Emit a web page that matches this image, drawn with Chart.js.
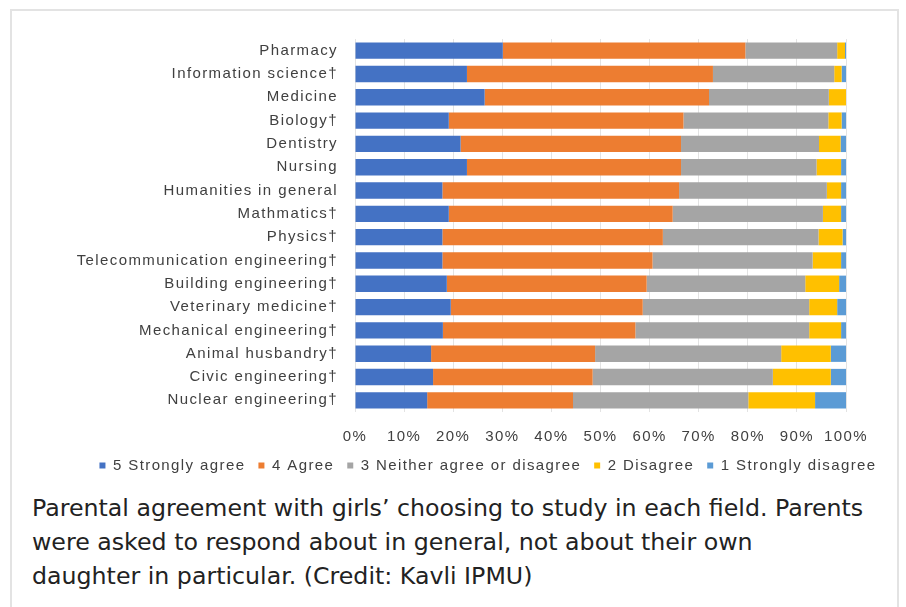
<!DOCTYPE html>
<html>
<head>
<meta charset="utf-8">
<script src="https://cdn.jsdelivr.net/npm/chart.js@4.4.1/dist/chart.umd.min.js"></script>
<style>
  html, body { margin: 0; padding: 0; background: #fff; }
  #frame {
    position: absolute; left: 10px; top: 9px; width: 889px; height: 620px;
    border: 2px solid #e3e3e3; box-sizing: border-box;
  }
  #chartBox { position: absolute; left: 0; top: 0; width: 906px; height: 490px; }
  #caption {
    position: absolute; left: 32px; top: 491px;
    font-family: "DejaVu Sans", sans-serif; font-size: 23.7px; line-height: 34px;
    color: #222; white-space: nowrap;
  }
</style>
</head>
<body>
<div id="frame"></div>
<div id="chartBox"><canvas id="myChart"></canvas></div>
<div id="caption">Parental agreement with girls’ choosing to study in each field. Parents<br>were asked to respond about in general, not about their own<br>daughter in particular. (Credit: Kavli IPMU)</div>
<script>
const fields = [
  "Pharmacy", "Information science†", "Medicine", "Biology†", "Dentistry", "Nursing",
  "Humanities in general", "Mathmatics†", "Physics†", "Telecommunication engineering†",
  "Building engineering†", "Veterinary medicine†", "Mechanical engineering†",
  "Animal husbandry†", "Civic engineering†", "Nuclear engineering†"
];
const stronglyAgree = [30.1, 22.8, 26.4, 19.1, 21.5, 22.8, 17.8, 19.1, 17.8, 17.8, 18.7, 19.5, 17.9, 15.5, 15.9, 14.7];
const agree = [49.4, 50.1, 45.7, 47.8, 44.9, 43.6, 48.2, 45.6, 44.9, 42.8, 40.7, 39.1, 39.2, 33.4, 32.5, 29.7];
const neither = [18.7, 24.7, 24.4, 29.5, 28.1, 27.6, 30.1, 30.6, 31.7, 32.6, 32.3, 33.9, 35.4, 37.9, 36.7, 35.7];
const disagree = [1.6, 1.5, 3.5, 2.7, 4.4, 5.0, 2.9, 3.7, 4.9, 5.8, 6.9, 5.7, 6.5, 10.1, 11.8, 13.6];
const stronglyDisagree = [0.2, 0.9, 0, 0.9, 1.1, 1.0, 1.0, 1.0, 0.7, 1.0, 1.4, 1.8, 1.0, 3.1, 3.1, 6.3];
const tickLabels = ["0%", "10%", "20%", "30%", "40%", "50%", "60%", "70%", "80%", "90%", "100%"];

const seriesNames = ["5 Strongly agree", "4 Agree", "3 Neither agree or disagree", "2 Disagree", "1 Strongly disagree"];
const seriesData = [stronglyAgree, agree, neither, disagree, stronglyDisagree];
const seriesColors = ["#4472C4", "#ED7D31", "#A5A5A5", "#FFC000", "#5B9BD5"];

const ctx = document.getElementById("myChart").getContext("2d");
const fontFamily = "'Liberation Sans', Arial, sans-serif";

// the source picture has widely spaced letters, canvas letterSpacing gets close
const spacing = {
  id: "spacing",
  beforeUpdate(chart) { chart.ctx.letterSpacing = "1.4px"; },
  beforeDraw(chart) { chart.ctx.letterSpacing = "1.4px"; }
};

let chart = new Chart(ctx, {
  type: "bar",
  data: {
    labels: fields,
    datasets: seriesNames.map((name, i) => ({
      label: name,
      data: seriesData[i],
      backgroundColor: seriesColors[i],
      borderWidth: 0,
      barPercentage: 1,
      categoryPercentage: 0.7
    }))
  },
  plugins: [spacing],
  options: {
    indexAxis: "y",
    responsive: true,
    maintainAspectRatio: false,
    animation: false,
    layout: { padding: { top: 39, right: 0, left: 70, bottom: 7 } },
    scales: {
      x: {
        stacked: true,
        min: 0,
        max: 100,
        border: { display: false },
        grid: { color: "#e3e3e3", lineWidth: 1, drawTicks: false },
        ticks: {
          stepSize: 10,
          padding: 16,
          maxRotation: 0,
          minRotation: 0,
          autoSkip: false,
          color: "#404040",
          font: { family: fontFamily, size: 15 },
          callback: (v, i) => tickLabels[i]
        },
        afterFit: (s) => { s.height = 33; }
      },
      y: {
        stacked: true,
        border: { display: false },
        grid: { display: false, drawTicks: false },
        ticks: {
          padding: 17,
          color: "#404040",
          font: { family: fontFamily, size: 15 },
          autoSkip: false
        },
        afterFit: (s) => { s.width = 285; }
      },
      // empty right-hand gutter so the plot ends where the original does
      gutter: {
        type: "linear",
        position: "right",
        border: { display: false },
        grid: { display: false, drawTicks: false },
        ticks: { display: false },
        afterFit: (s) => { s.width = 60; }
      }
    },
    plugins: {
      legend: {
        position: "bottom",
        labels: {
          boxWidth: 6,
          boxHeight: 6,
          padding: 13,
          color: "#404040",
          font: { family: fontFamily, size: 15 }
        }
      },
      tooltip: { enabled: false }
    }
  }
});
</script>
</body>
</html>
